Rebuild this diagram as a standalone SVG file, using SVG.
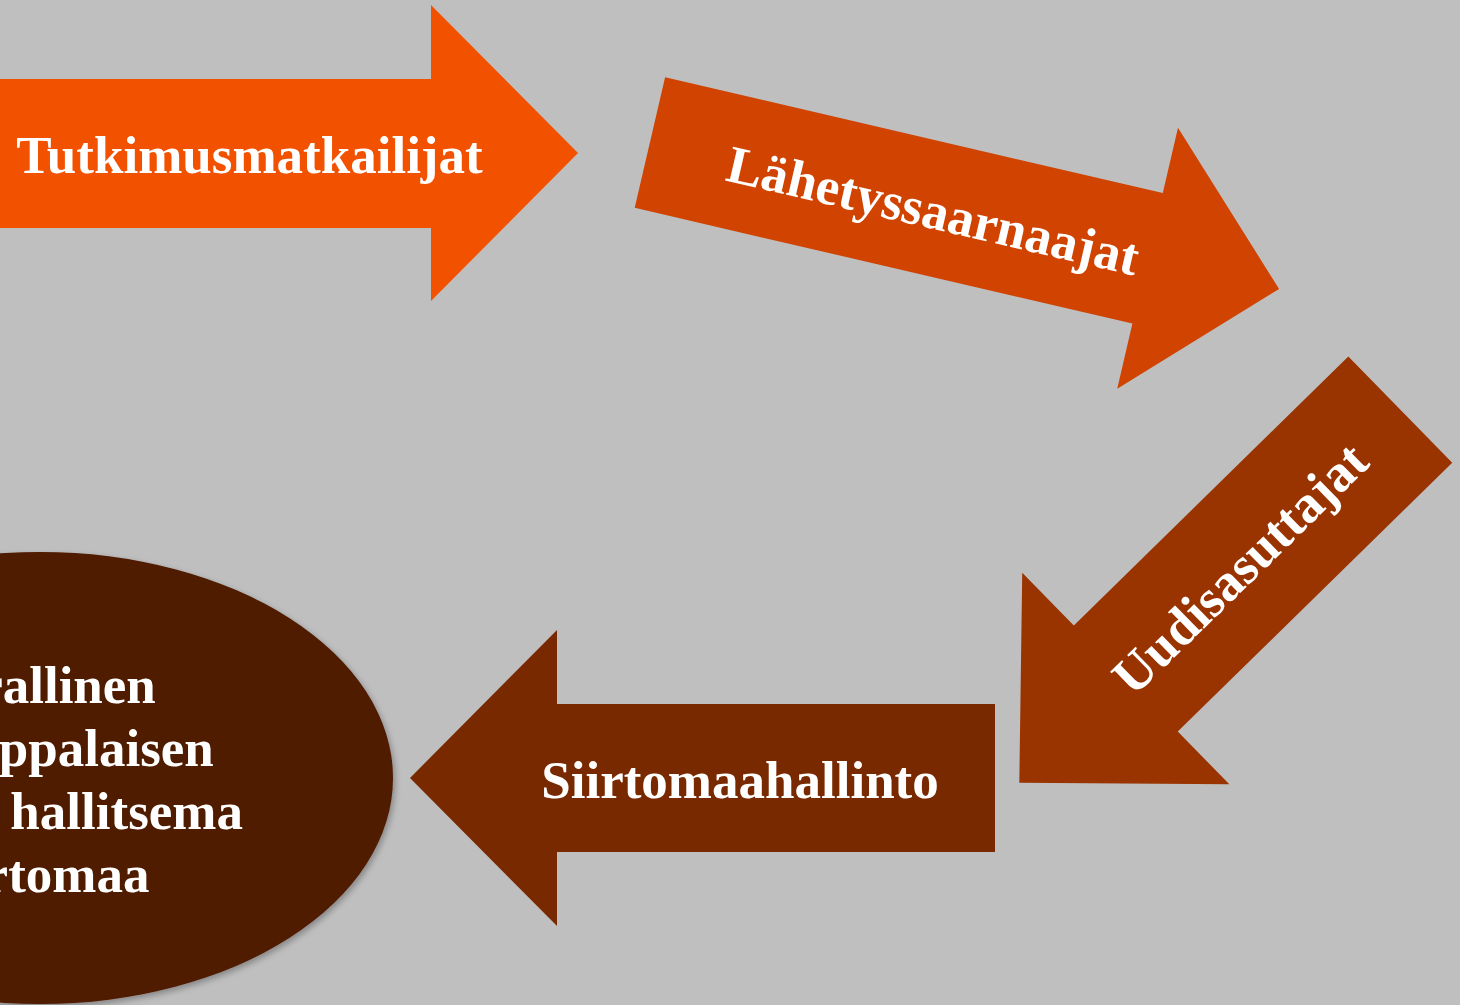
<svg xmlns="http://www.w3.org/2000/svg" width="1460" height="1005" viewBox="0 0 1460 1005">
  <defs>
    <style>
      .lbl { font-family: "Liberation Serif", "Times New Roman", serif; font-weight: bold; font-size: 53px; fill: #FFFFFF; text-anchor: middle; }
    </style>
    <filter id="shadow" x="-20%" y="-20%" width="140%" height="140%">
      <feDropShadow dx="2" dy="3" stdDeviation="3" flood-color="#000000" flood-opacity="0.3"/>
    </filter>
  </defs>
  <rect x="0" y="0" width="1460" height="1005" fill="#BFBFBF"/>

  <g id="node-tutkimusmatkailijat">
    <polygon points="-10,79 431,79 431,5 578,153 431,301 431,228 -10,228" fill="#F25200"/>
    <text class="lbl" x="249.5" y="173">Tutkimusmatkailijat</text>
  </g>

  <g id="node-lahetyssaarnaajat" transform="translate(964.5,215.75) rotate(13.1)">
    <polygon points="-323,-67 188,-67 188,-134 323,0 188,134 188,67 -323,67" fill="#D04300"/>
    <text class="lbl" x="-31.6" y="20">Lähetyssaarnaajat</text>
  </g>

  <g id="node-uudisasuttajat" transform="translate(1209.8,596.2) rotate(-44.4)">
    <polygon points="-266.6,0 -117.6,-148 -117.6,-74.25 266.6,-74.25 266.6,74.25 -117.6,74.25 -117.6,148" fill="#993300"/>
    <text class="lbl" x="41" y="19">Uudisasuttajat</text>
  </g>

  <g id="node-siirtomaahallinto">
    <polygon points="995,704 557,704 557,630 410,778 557,926 557,852 995,852" fill="#792900"/>
    <text class="lbl" x="740" y="798">Siirtomaahallinto</text>
  </g>

  <g id="node-siirtomaa">
    <ellipse cx="40" cy="778" rx="353" ry="226" fill="#4F1A00" filter="url(#shadow)"/>
    <text class="lbl" x="42" y="703">Virallinen</text>
    <text class="lbl" x="42" y="766">eurooppalaisen</text>
    <text class="lbl" x="42" y="829">valtion hallitsema</text>
    <text class="lbl" x="42" y="892">siirtomaa</text>
  </g>
</svg>
